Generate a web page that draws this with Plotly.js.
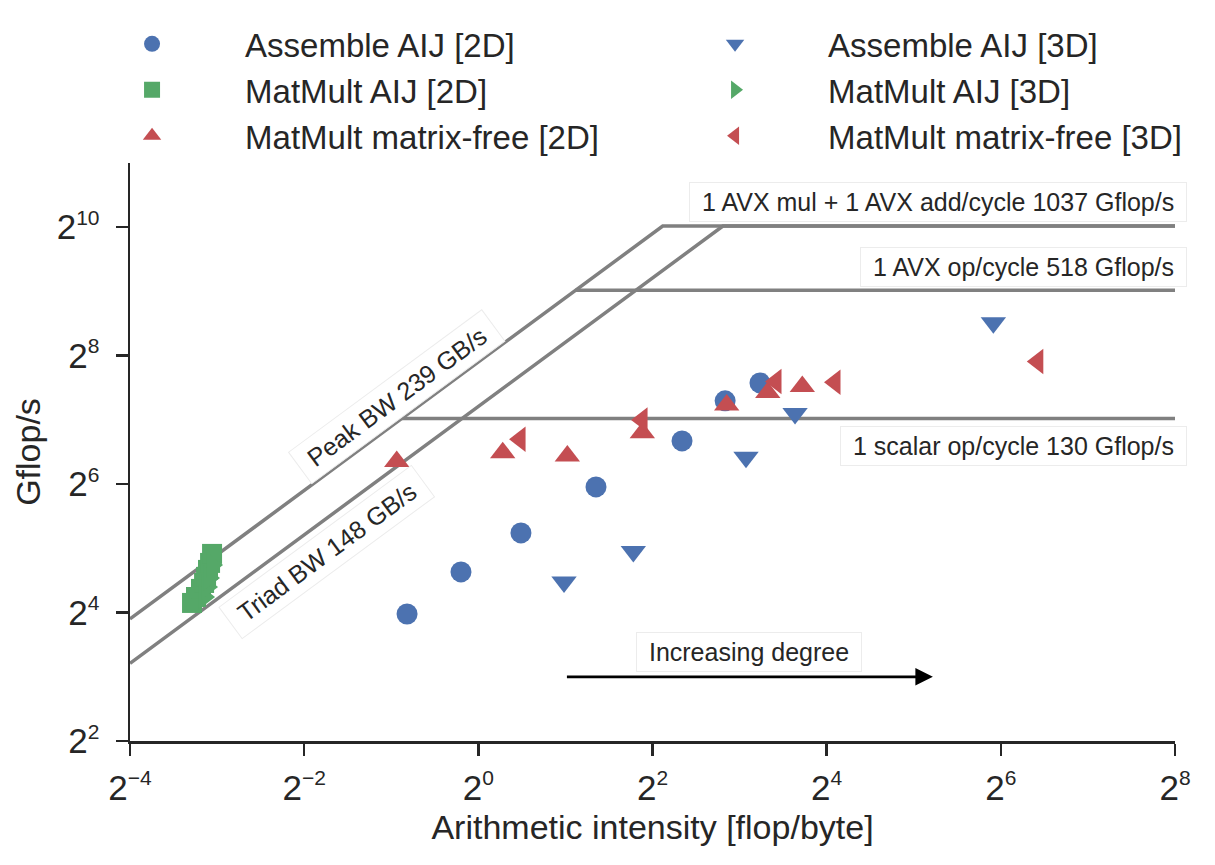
<!DOCTYPE html>
<html>
<head>
<meta charset="utf-8">
<script src="https://cdn.plot.ly/plotly-3.0.1.min.js"></script>
<style>
  html, body { margin: 0; padding: 0; background: #ffffff; }
  #chart { width: 1215px; height: 865px; }
</style>
</head>
<body>
<div id="chart"></div>
<script>
// Arithmetic intensity [flop/byte] and achieved rate [Gflop/s] per kernel
const assemble2dAI = [0.567, 0.871, 1.404, 2.551, 5.06, 7.13, 9.41];
const assemble2dGF = [15.76, 24.8, 37.8, 62.1, 102.0, 157.2, 190.8];

const matmultAij2dAI = [0.1024, 0.1057, 0.1100, 0.1127, 0.1145, 0.1163, 0.1182, 0.1201];
const matmultAij2dGF = [17.75, 18.93, 20.65, 22.02, 23.51, 25.35, 27.34, 30.13];

const matfree2dAI = [0.5223, 1.214, 2.031, 3.689, 7.22, 10.01, 13.18];
const matfree2dGF = [81.6, 89.9, 86.8, 111.3, 150.5, 171.8, 183.4];

const assemble3dAI = [1.978, 3.434, 8.42, 12.44, 60.3];
const assemble3dGF = [22.27, 30.89, 85.57, 137.0, 364.8];

const matmultAij3dAI = [0.1127, 0.1154, 0.1172, 0.1201];
const matmultAij3dGF = [18.93, 21.10, 23.25, 26.74];

const matfree3dAI = [1.394, 3.681, 10.69, 17.10, 85.9];
const matfree3dGF = [103.9, 128.0, 193.6, 192.3, 240.2];

// Machine limits
const bandwidthNames = ['Peak BW', 'Triad BW'];
const bandwidths = [239, 148];            // GB/s
const ceilingNames = ['1 AVX mul + 1 AVX add/cycle', '1 AVX op/cycle', '1 scalar op/cycle'];
const ceilings = [1037, 518, 130];        // Gflop/s

// Axis extents and tick labels (powers of two)
const xExp = [-4, 8];
const yExp = [2, 11];
const xTickExp = [-4, -2, 0, 2, 4, 6, 8];
const yTickExp = [2, 4, 6, 8, 10];

const BLUE = '#4C72B0', GREEN = '#55A868', RED = '#C44E52', GREY = '#808080', INK = '#262626';
const FONT = 'Liberation Sans, Arial, Helvetica, sans-serif';
const lg = Math.log10;
const xMin = Math.pow(2, xExp[0]), xMax = Math.pow(2, xExp[1]);
const maxCeil = Math.max(...ceilings);

const traces = [];

// Bandwidth roofs: slope up to the top ceiling, then flat
bandwidths.forEach(function (bw) {
  traces.push({
    x: [xMin, maxCeil / bw, xMax],
    y: [bw * xMin, maxCeil, maxCeil],
    mode: 'lines', line: { color: GREY, width: 3.5 },
    showlegend: false, hoverinfo: 'skip'
  });
});
// Lower compute ceilings start on the peak bandwidth roof
ceilings.slice(1).forEach(function (c) {
  traces.push({
    x: [c / bandwidths[0], xMax],
    y: [c, c],
    mode: 'lines', line: { color: GREY, width: 3.5 },
    showlegend: false, hoverinfo: 'skip'
  });
});

function series(name, xs, ys, symbol, size, color, rank) {
  return {
    name: name, x: xs, y: ys, mode: 'markers', legendrank: rank,
    marker: { symbol: symbol, size: size, color: color, line: { width: 0 } }
  };
}
traces.push(series('Assemble AIJ [2D]', assemble2dAI, assemble2dGF, 'circle', 21, BLUE, 1));
traces.push(series('MatMult AIJ [2D]', matmultAij2dAI, matmultAij2dGF, 'square', 20, GREEN, 3));
traces.push(series('MatMult matrix-free [2D]', matfree2dAI, matfree2dGF, 'triangle-up', 22, RED, 5));
traces.push(series('Assemble AIJ [3D]', assemble3dAI, assemble3dGF, 'triangle-down', 22, BLUE, 2));
traces.push(series('MatMult AIJ [3D]', matmultAij3dAI, matmultAij3dGF, 'triangle-right', 22, GREEN, 4));
traces.push(series('MatMult matrix-free [3D]', matfree3dAI, matfree3dGF, 'triangle-left', 22, RED, 6));

const W = 1215, H = 865;
const M = { l: 130, r: 40, t: 163, b: 124 };
const plotW = W - M.l - M.r, plotH = H - M.t - M.b;
// screen slope of a bandwidth roof
const pxPerX = plotW / (xExp[1] - xExp[0]);
const pxPerY = plotH / (yExp[1] - yExp[0]);
const roofAngle = Math.atan(pxPerY / pxPerX) * 180 / Math.PI;

const NB = '\u00a0';
const boxStyle = {
  bgcolor: '#ffffff', bordercolor: '#ececec', borderwidth: 1, borderpad: 5,
  font: { family: FONT, size: 25, color: INK }, showarrow: false
};
function label(extra) { return Object.assign({}, boxStyle, extra); }

const annotations = [];
// Ceiling labels, right-aligned at the end of the x axis
[[0, 'bottom', 4], [1, 'bottom', 3], [2, 'top', -8]].forEach(function (s) {
  const i = s[0];
  annotations.push(label({
    text: NB + ceilingNames[i] + ' ' + ceilings[i] + ' Gflop/s' + NB,
    x: lg(xMax), y: lg(ceilings[i]), xref: 'x', yref: 'y',
    xanchor: 'right', yanchor: s[1], xshift: 12, yshift: s[2]
  }));
});
// Bandwidth labels, rotated along their roof
const bwLabelPos = [-0.80, -1.927];     // log2 of intensity where the label sits
const bwLabelShift = [[-12.5, 16.9], [16.4, -22.2]];
bandwidths.forEach(function (bw, i) {
  const ai = Math.pow(2, bwLabelPos[i]);
  annotations.push(label({
    text: NB + bandwidthNames[i] + ' ' + bw + ' GB/s' + NB,
    x: lg(ai), y: lg(bw * ai), xref: 'x', yref: 'y',
    xanchor: 'center', yanchor: 'middle', textangle: -roofAngle,
    xshift: bwLabelShift[i][0], yshift: bwLabelShift[i][1]
  }));
});
// Degree arrow
const arrowFrom = 2, arrowTo = Math.pow(2, 5.22), arrowLevel = 8;
annotations.push({
  text: '', x: lg(arrowTo), y: lg(arrowLevel), ax: lg(arrowFrom), ay: lg(arrowLevel),
  xref: 'x', yref: 'y', axref: 'x', ayref: 'y',
  showarrow: true, arrowhead: 2, arrowsize: 1.3, arrowwidth: 2.7, arrowcolor: '#000000', standoff: 0
});
annotations.push(label({
  text: NB + 'Increasing degree' + NB,
  x: lg(Math.sqrt(arrowFrom * arrowTo)), y: lg(arrowLevel), xref: 'x', yref: 'y',
  xanchor: 'center', yanchor: 'bottom', yshift: 5
}));

function pow2Text(e) {
  return '2<sup><span style="font-size:21px">' + (e < 0 ? '\u2212' + (-e) : e) + '</span></sup>';
}

const axisCommon = {
  type: 'log', showgrid: false, zeroline: false, showline: true,
  linecolor: INK, linewidth: 2.5, ticks: 'outside', ticklen: 12, tickwidth: 2.5,
  tickcolor: INK, tickfont: { family: FONT, size: 35, color: INK }, automargin: false
};

const layout = {
  width: W, height: H, margin: Object.assign({ pad: 0, autoexpand: false }, M),
  paper_bgcolor: '#ffffff', plot_bgcolor: '#ffffff',
  font: { family: FONT, color: INK },
  xaxis: Object.assign({}, axisCommon, {
    range: [xExp[0] * lg(2), xExp[1] * lg(2)], ticklabelstandoff: 2,
    tickvals: xTickExp.map(e => Math.pow(2, e)), ticktext: xTickExp.map(pow2Text),
    title: { text: 'Arithmetic intensity [flop/byte]', font: { family: FONT, size: 34, color: INK }, standoff: 10 }
  }),
  yaxis: Object.assign({}, axisCommon, {
    range: [yExp[0] * lg(2), yExp[1] * lg(2)], ticklabelstandoff: 9,
    tickvals: yTickExp.map(e => Math.pow(2, e)), ticktext: yTickExp.map(pow2Text),
    title: { text: 'Gflop/s', font: { family: FONT, size: 34, color: INK }, standoff: 6 }
  }),
  showlegend: true,
  legend: {
    orientation: 'h', x: -0.0679, xanchor: 'left', y: 1.2545, yanchor: 'top',
    itemwidth: 176, entrywidth: 392, entrywidthmode: 'pixels',
    font: { family: FONT, size: 33, color: INK }, bgcolor: 'rgba(0,0,0,0)',
    traceorder: 'normal', itemclick: false, itemdoubleclick: false
  },
  annotations: annotations
};

Plotly.newPlot('chart', traces, layout, { displayModeBar: false, staticPlot: true });
</script>
</body>
</html>
